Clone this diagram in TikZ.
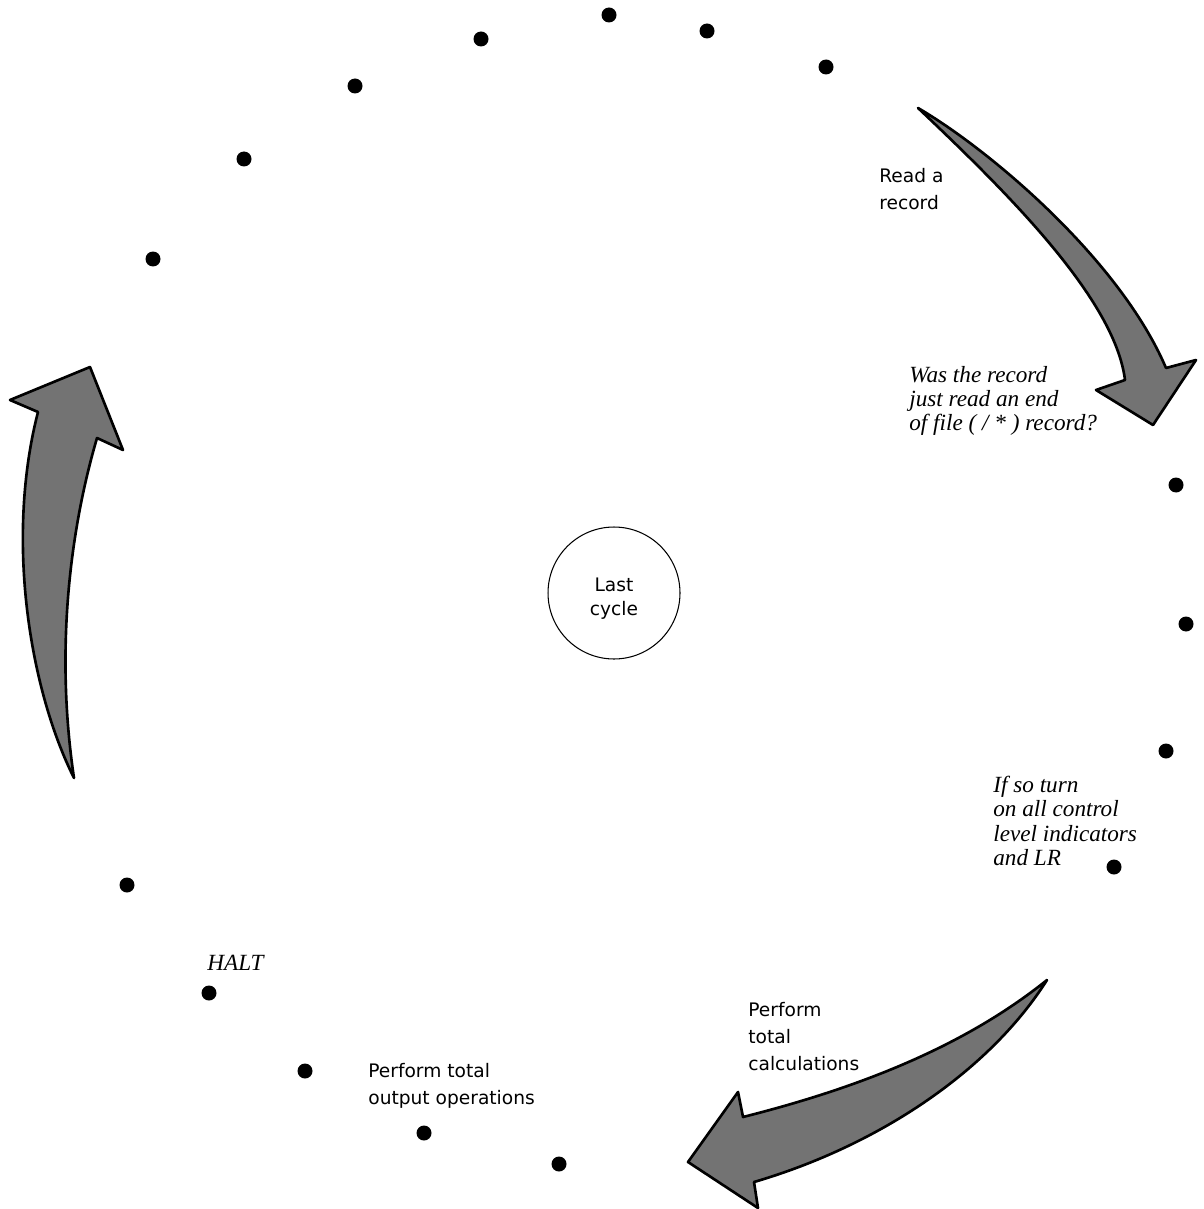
\documentclass[tikz,border=0pt]{standalone}
\usepackage{fontspec}
\setmainfont{Liberation Serif}
\newfontfamily\labelfont{DejaVu Sans}
\definecolor{screencol}{gray}{0.45}

\begin{document}
\begin{tikzpicture}[
    x=0.02cm, y=-0.02cm,
    dot/.style={circle, fill=black, inner sep=0pt, minimum size=0.3cm},
    steplabel/.style={font=\labelfont\fontsize{10.6}{15.3}\selectfont,
                      align=left, inner sep=0pt, anchor=north west},
    testlabel/.style={font=\itshape\fontsize{13.2}{13.8}\selectfont,
                      align=left, inner sep=0pt, anchor=north west},
    bigarrow/.style={draw=black, line width=1.5pt, line join=round,
                     fill=screencol}
  ]
  \useasboundingbox (0,0) rectangle (1203,1209);

  % ---- Centre: last cycle ----
  \node[draw, circle, line width=0.6pt, minimum size=2.64cm]
    (lastcycle) at (614,593) {};
  \node[align=center, inner sep=0pt, font=\labelfont\fontsize{10.6}{13.5}\selectfont]
    (lastlbl) at (614,599) {Last\\cycle};

  % ---- Dots round the cycle (clockwise from the top) ----
  \foreach \x/\y [count=\i] in {609/15, 707/31, 826/67, 1176/485, 1186/624,
      1166/751, 1114/867, 559/1164, 424/1133, 305/1071, 209/993, 127/885,
      153/259, 244/159, 355/86, 481/39} {
    \node[dot] (dot-\i) at (\x,\y) {};
  }

  % ---- Read arrow (top right) ----
  \draw[bigarrow] (918,108) .. controls (990,150) and (1120,260) .. (1166,368)
    -- (1196,360) -- (1153,425) -- (1096,390) -- (1125,380)
    .. controls (1115,300) and (1010,195) .. (918,108) -- cycle;

  % ---- Total calculations arrow (bottom) ----
  \draw[bigarrow] (1047,980) .. controls (960,1050) and (850,1090) .. (743,1117)
    -- (738,1092) -- (688,1162) -- (758,1208) -- (754,1182)
    .. controls (880,1145) and (990,1070) .. (1047,980) -- cycle;

  % ---- Back to the top (left) ----
  \draw[bigarrow] (74,778) .. controls (30,690) and (5,540) .. (38,412)
    -- (10,400) -- (90,367) -- (123,450) -- (97,438)
    .. controls (70,530) and (55,650) .. (74,778) -- cycle;

  % ---- Labels ----
  \node[steplabel] (readlbl) at (879,168) {Read a\\record};
  \node[testlabel] (eoflbl) at (909,366)
    {Was the record\\just read an end\\of file ( / * ) record?};
  \node[testlabel] (ifsolbl) at (993,776)
    {If so turn\\on all control\\level indicators\\and LR};
  \node[steplabel] (calclbl) at (748,1002) {Perform\\total\\calculations};
  \node[steplabel] (outlbl) at (368,1063) {Perform total\\output operations};
  \node[testlabel] (haltlbl) at (207,955) {HALT};

\end{tikzpicture}
\end{document}
